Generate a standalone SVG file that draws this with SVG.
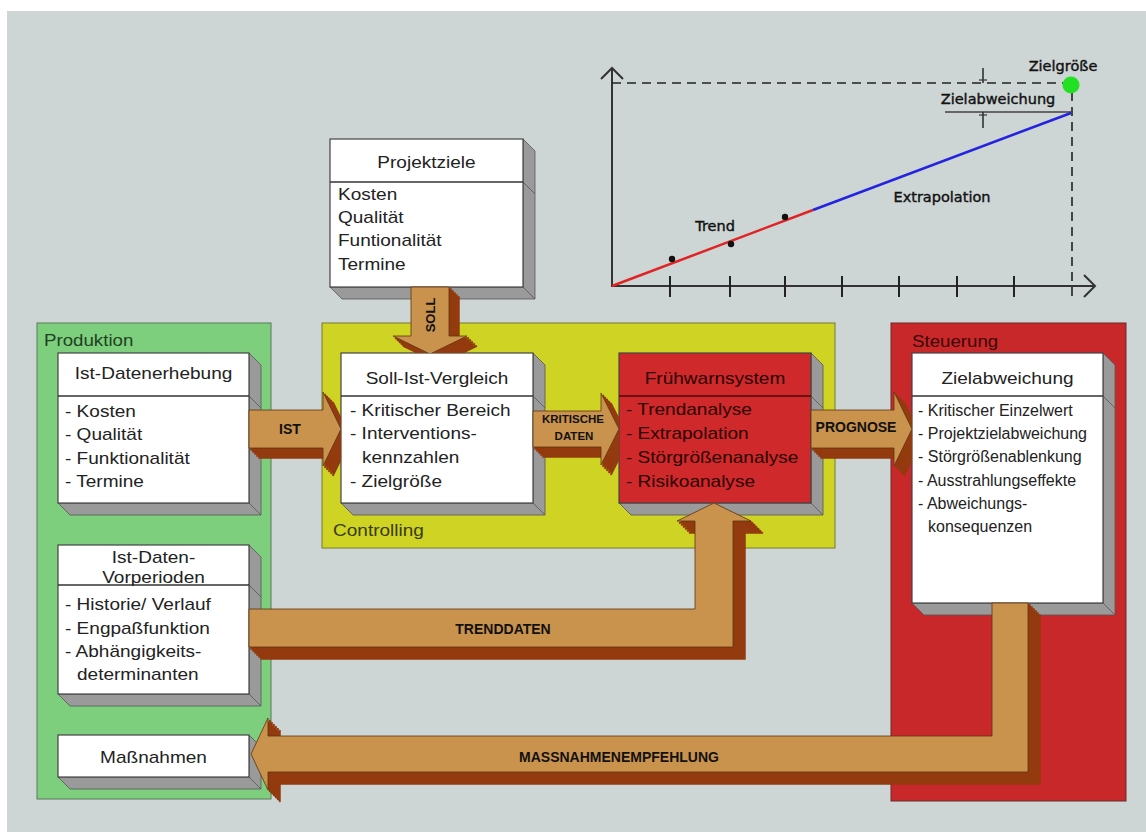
<svg xmlns="http://www.w3.org/2000/svg" xmlns:xlink="http://www.w3.org/1999/xlink" width="1146" height="832" viewBox="0 0 1146 832">
<style>
.t{font-family:"Liberation Sans",Arial,sans-serif;font-size:17px;fill:#222}
.s{font-family:"Liberation Sans",Arial,sans-serif;font-size:16px;fill:#222}
.c{text-anchor:middle}
.rt{fill:#2a0000}
.at{font-family:"Liberation Sans",Arial,sans-serif;font-size:14px;font-weight:bold;fill:#111;text-anchor:middle}
.ak{font-family:"Liberation Sans",Arial,sans-serif;font-size:11.5px;font-weight:bold;fill:#111;text-anchor:middle}
.ch{font-family:"DejaVu Sans",sans-serif;font-size:14.5px;fill:#111;stroke:#111;stroke-width:0.4;text-anchor:middle}
.ext{fill:#9a9a9a;stroke:#555;stroke-width:0.8}
.face{fill:#fff;stroke:#444;stroke-width:1.2}
.rface{fill:#d0292b;stroke:#444;stroke-width:1.2}
.div{stroke:#333;stroke-width:1.6}
.edge{stroke:#555;stroke-width:0.8}
.dk{fill:#933a0e;stroke:#933a0e;stroke-width:1.5}
.lt{fill:#c9924d;stroke:#5e3510;stroke-width:0.8}
.ax{stroke:#333;stroke-width:2;fill:none}
.dash{stroke:#222;stroke-width:1.6;stroke-dasharray:9 6;fill:none}
.tick{stroke:#222;stroke-width:2}
</style>
<defs>
<path id="aIST" d="M249 410H323V392L341 429L323 466V448H249Z"/>
<path id="aKD" d="M533 411H601V393L619 429L601 465V447H533Z"/>
<path id="aPR" d="M811 410H894V392L912 429L894 466V448H811Z"/>
<path id="aSO" d="M411 287V336H393L430 354L467 336H449V287Z"/>
<path id="aTD" d="M249 609H695V521H677L714 503L751 521H733V647H249Z"/>
<path id="aMA" d="M992 603H1028V772H268V790L251 754L268 718V736H992Z"/>
<clipPath id="cSI"><path clip-rule="evenodd" d="M0 0H1146V832H0Z M341 353H533V503H341Z"/></clipPath>
<clipPath id="cFW"><path clip-rule="evenodd" d="M0 0H1146V832H0Z M619 353H811V503H619Z"/></clipPath>
<clipPath id="cZA"><path clip-rule="evenodd" d="M0 0H1146V832H0Z M912 353H1103V603H912Z"/></clipPath>
<clipPath id="cMN"><path clip-rule="evenodd" d="M0 0H1146V832H0Z M58 735H249V777H58Z"/></clipPath>
</defs>

<rect x="0" y="0" width="1146" height="832" fill="#fff"/>
<rect x="7" y="11" width="1139" height="821" fill="#cdd5d5"/>

<g id="chart">
<line class="ax" x1="612" y1="68" x2="612" y2="287"/>
<polyline class="ax" points="601,79 612,68 623,79"/>
<line class="ax" x1="611" y1="286" x2="1094" y2="286"/>
<polyline class="ax" points="1084,275 1095,286 1084,297"/>
<line class="tick" x1="670" y1="276" x2="670" y2="297"/>
<line class="tick" x1="730" y1="276" x2="730" y2="297"/>
<line class="tick" x1="785" y1="276" x2="785" y2="297"/>
<line class="tick" x1="842" y1="276" x2="842" y2="297"/>
<line class="tick" x1="899" y1="276" x2="899" y2="297"/>
<line class="tick" x1="957" y1="276" x2="957" y2="297"/>
<line class="tick" x1="1014" y1="276" x2="1014" y2="297"/>
<path class="dash" d="M612 83H1064"/>
<path class="dash" d="M1072 92V297"/>
<line x1="945" y1="112" x2="1071" y2="112" stroke="#666" stroke-width="2"/>
<line x1="983" y1="68" x2="983" y2="83" stroke="#333" stroke-width="1.6"/>
<line x1="979" y1="80" x2="987" y2="80" stroke="#333" stroke-width="1.2"/>
<line x1="983" y1="112" x2="983" y2="128" stroke="#333" stroke-width="1.6"/>
<line x1="979" y1="115" x2="987" y2="115" stroke="#333" stroke-width="1.2"/>
<line x1="612" y1="286" x2="813" y2="210" stroke="#e02424" stroke-width="2.5"/>
<line x1="813" y1="210" x2="1071" y2="113" stroke="#2424e0" stroke-width="2.5"/>
<circle cx="672" cy="259" r="3.2" fill="#111"/>
<circle cx="731" cy="244" r="3.2" fill="#111"/>
<circle cx="785" cy="217" r="3.2" fill="#111"/>
<circle cx="1071" cy="85" r="8.5" fill="#22e022"/>
<text class="ch" x="1063" y="71">Zielgröße</text>
<text class="ch" x="998" y="104">Zielabweichung</text>
<text class="ch" x="715" y="231">Trend</text>
<text class="ch" x="942" y="202">Extrapolation</text>
</g>

<g id="produktion">
<rect x="37" y="323" width="234" height="476" fill="#7dcf7e" stroke="#5a7a5a" stroke-width="1"/>
<text class="t" transform="translate(44 346) scale(1.1 1)" style="fill:#234023">Produktion</text>
</g>
<g id="controlling">
<rect x="322" y="323" width="513" height="225" fill="#cfd324" stroke="#777a30" stroke-width="1"/>
<text class="t" transform="translate(333 536) scale(1.12 1)" style="fill:#3b3b10">Controlling</text>
</g>
<g id="steuerung">
<rect x="891" y="323" width="235" height="478" fill="#c8282a" stroke="#6a2a2a" stroke-width="1"/>
<text class="t" transform="translate(912 347) scale(1.1 1)" style="fill:#3a0505">Steuerung</text>
</g>

<g id="projektziele">
<polygon class="ext" points="523,139 535,151 535,299 342,299 330,287 523,287"/>
<line class="edge" x1="523" y1="287" x2="535" y2="299"/>
<line class="edge" x1="523" y1="182" x2="535" y2="194"/>
<rect class="face" x="330" y="139" width="193" height="148"/>
<line class="div" x1="330" y1="182" x2="523" y2="182"/>
<text class="t c" transform="translate(426.5 168) scale(1.12 1)">Projektziele</text>
<text class="t" transform="translate(338 200) scale(1.12 1)">Kosten</text>
<text class="t" transform="translate(338 223) scale(1.12 1)">Qualität</text>
<text class="t" transform="translate(338 246) scale(1.12 1)">Funtionalität</text>
<text class="t" transform="translate(338 270) scale(1.12 1)">Termine</text>
</g>

<g id="ist-datenerhebung">
<polygon class="ext" points="249,353 261,365 261,515 70,515 58,503 249,503"/>
<line class="edge" x1="249" y1="503" x2="261" y2="515"/>
<line class="edge" x1="249" y1="396" x2="261" y2="408"/>
<rect class="face" x="58" y="353" width="191" height="150"/>
<line class="div" x1="58" y1="396" x2="249" y2="396"/>
<text class="t c" transform="translate(153.5 379) scale(1.12 1)">Ist-Datenerhebung</text>
<text class="t" transform="translate(65 417) scale(1.12 1)">- Kosten</text>
<text class="t" transform="translate(65 440) scale(1.12 1)">- Qualität</text>
<text class="t" transform="translate(65 464) scale(1.12 1)">- Funktionalität</text>
<text class="t" transform="translate(65 487) scale(1.12 1)">- Termine</text>
</g>

<g id="soll-ist-vergleich">
<polygon class="ext" points="533,353 545,365 545,515 353,515 341,503 533,503"/>
<line class="edge" x1="533" y1="503" x2="545" y2="515"/>
<line class="edge" x1="533" y1="396" x2="545" y2="408"/>
<rect class="face" x="341" y="353" width="192" height="150"/>
<line class="div" x1="341" y1="396" x2="533" y2="396"/>
<text class="t c" transform="translate(437 384) scale(1.12 1)">Soll-Ist-Vergleich</text>
<text class="t" transform="translate(350 416) scale(1.12 1)">- Kritischer Bereich</text>
<text class="t" transform="translate(350 439) scale(1.12 1)">- Interventions-</text>
<text class="t" transform="translate(362 463) scale(1.12 1)">kennzahlen</text>
<text class="t" transform="translate(350 487) scale(1.12 1)">- Zielgröße</text>
</g>

<g id="fruehwarnsystem">
<polygon class="ext" points="811,353 823,365 823,515 631,515 619,503 811,503"/>
<line class="edge" x1="811" y1="503" x2="823" y2="515"/>
<line class="edge" x1="811" y1="396" x2="823" y2="408"/>
<rect class="rface" x="619" y="353" width="192" height="150"/>
<line class="div" x1="619" y1="396" x2="811" y2="396" style="stroke:#4a0a0a"/>
<text class="t c rt" transform="translate(715 384) scale(1.12 1)">Frühwarnsystem</text>
<text class="t rt" transform="translate(626 415) scale(1.12 1)">- Trendanalyse</text>
<text class="t rt" transform="translate(626 439) scale(1.12 1)">- Extrapolation</text>
<text class="t rt" transform="translate(626 463) scale(1.12 1)">- Störgrößenanalyse</text>
<text class="t rt" transform="translate(626 487) scale(1.12 1)">- Risikoanalyse</text>
</g>

<g id="zielabweichung">
<polygon class="ext" points="1103,353 1115,365 1115,615 924,615 912,603 1103,603"/>
<line class="edge" x1="1103" y1="603" x2="1115" y2="615"/>
<line class="edge" x1="1103" y1="396" x2="1115" y2="408"/>
<rect class="face" x="912" y="353" width="191" height="250"/>
<line class="div" x1="912" y1="396" x2="1103" y2="396"/>
<text class="t c" transform="translate(1007.5 384) scale(1.12 1)">Zielabweichung</text>
<text class="s" x="918" y="416">- Kritischer Einzelwert</text>
<text class="s" x="918" y="439">- Projektzielabweichung</text>
<text class="s" x="918" y="462">- Störgrößenablenkung</text>
<text class="s" x="918" y="486">- Ausstrahlungseffekte</text>
<text class="s" x="918" y="509">- Abweichungs-</text>
<text class="s" x="928" y="532">konsequenzen</text>
</g>

<g id="ist-daten-vorperioden">
<polygon class="ext" points="249,545 261,557 261,706 70,706 58,694 249,694"/>
<line class="edge" x1="249" y1="694" x2="261" y2="706"/>
<line class="edge" x1="249" y1="585" x2="261" y2="597"/>
<rect class="face" x="58" y="545" width="191" height="149"/>
<line class="div" x1="58" y1="585" x2="249" y2="585"/>
<text class="t c" transform="translate(153.5 563) scale(1.12 1)">Ist-Daten-</text>
<text class="t c" transform="translate(153.5 583) scale(1.12 1)">Vorperioden</text>
<text class="t" transform="translate(65 610) scale(1.12 1)">- Historie/ Verlauf</text>
<text class="t" transform="translate(65 634) scale(1.12 1)">- Engpaßfunktion</text>
<text class="t" transform="translate(65 657) scale(1.12 1)">- Abhängigkeits-</text>
<text class="t" transform="translate(77 680) scale(1.12 1)">determinanten</text>
</g>

<g id="massnahmen">
<polygon class="ext" points="249,735 261,747 261,789 70,789 58,777 249,777"/>
<line class="edge" x1="249" y1="777" x2="261" y2="789"/>
<rect class="face" x="58" y="735" width="191" height="42"/>
<text class="t c" transform="translate(153.5 763) scale(1.12 1)">Maßnahmen</text>
</g>

<g id="connectors">
<g id="arrow-ist" clip-path="url(#cSI)">
<g class="dk"><use xlink:href="#aIST" transform="translate(2 2)"/><use xlink:href="#aIST" transform="translate(4 4)"/><use xlink:href="#aIST" transform="translate(6 6)"/><use xlink:href="#aIST" transform="translate(8 8)"/><use xlink:href="#aIST" transform="translate(10 10)"/></g>
<use xlink:href="#aIST" class="lt"/>
<text class="at" x="290" y="434">IST</text>
</g>
<g id="arrow-kritische-daten" clip-path="url(#cFW)">
<g class="dk"><use xlink:href="#aKD" transform="translate(2 2)"/><use xlink:href="#aKD" transform="translate(4 4)"/><use xlink:href="#aKD" transform="translate(6 6)"/><use xlink:href="#aKD" transform="translate(8 8)"/><use xlink:href="#aKD" transform="translate(10 10)"/></g>
<use xlink:href="#aKD" class="lt"/>
<text class="ak" x="573" y="423">KRITISCHE</text>
<text class="ak" x="574" y="440">DATEN</text>
</g>
<g id="arrow-prognose" clip-path="url(#cZA)">
<g class="dk"><use xlink:href="#aPR" transform="translate(2 2)"/><use xlink:href="#aPR" transform="translate(4 4)"/><use xlink:href="#aPR" transform="translate(6 6)"/><use xlink:href="#aPR" transform="translate(8 8)"/><use xlink:href="#aPR" transform="translate(10 10)"/></g>
<use xlink:href="#aPR" class="lt"/>
<text class="at" x="856" y="432">PROGNOSE</text>
</g>
<g id="arrow-soll" clip-path="url(#cSI)">
<g class="dk"><use xlink:href="#aSO" transform="translate(2 2)"/><use xlink:href="#aSO" transform="translate(4 4)"/><use xlink:href="#aSO" transform="translate(6 6)"/><use xlink:href="#aSO" transform="translate(8 8)"/><use xlink:href="#aSO" transform="translate(10 10)"/></g>
<use xlink:href="#aSO" class="lt"/>
<text class="at" transform="translate(435 315) rotate(-90)" style="font-size:13px">SOLL</text>
</g>
<g id="arrow-trenddaten" clip-path="url(#cFW)">
<g class="dk"><use xlink:href="#aTD" transform="translate(2 2)"/><use xlink:href="#aTD" transform="translate(4 4)"/><use xlink:href="#aTD" transform="translate(6 6)"/><use xlink:href="#aTD" transform="translate(8 8)"/><use xlink:href="#aTD" transform="translate(10 10)"/><use xlink:href="#aTD" transform="translate(12 12)"/></g>
<use xlink:href="#aTD" class="lt"/>
<text class="at" x="503" y="634">TRENDDATEN</text>
</g>
<g id="arrow-massnahmenempfehlung" clip-path="url(#cMN)">
<g class="dk"><use xlink:href="#aMA" transform="translate(2 2)"/><use xlink:href="#aMA" transform="translate(4 4)"/><use xlink:href="#aMA" transform="translate(6 6)"/><use xlink:href="#aMA" transform="translate(8 8)"/><use xlink:href="#aMA" transform="translate(10 10)"/><use xlink:href="#aMA" transform="translate(12 12)"/></g>
<use xlink:href="#aMA" class="lt"/>
<text class="at" x="619" y="762">MASSNAHMENEMPFEHLUNG</text>
</g>
</g>
</svg>
